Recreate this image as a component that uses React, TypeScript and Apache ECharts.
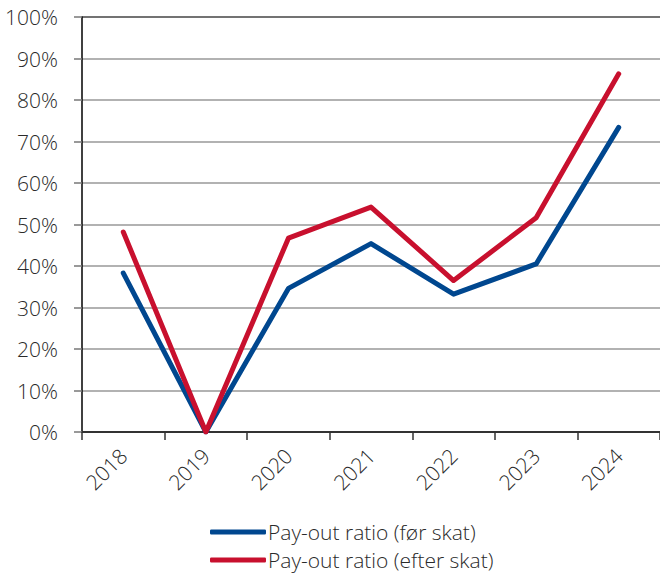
import React, { useEffect, useRef } from "react";
import * as echarts from "echarts";

const years = ["2018", "2019", "2020", "2021", "2022", "2023", "2024"];
const beforeTax = [38.3, 0, 34.6, 45.4, 33.2, 40.5, 73.4];
const afterTax = [48.2, 0, 46.7, 54.2, 36.5, 51.6, 86.3];
const seriesNames = ["Pay-out ratio (før skat)", "Pay-out ratio (efter skat)"];

const FONT = "'Open Sans', Lato, sans-serif";

export default function App() {
  const ref = useRef<HTMLDivElement>(null);
  useEffect(() => {
    const chart = echarts.init(ref.current!, undefined, { renderer: "svg" });
    const gridColors = Array.from({ length: 11 }, (_, i) => (i === 10 ? "#444" : "#999"));
    chart.setOption({
      animation: false,
      textStyle: { fontFamily: FONT },
      grid: { left: 82, right: -3, top: 17, bottom: 145, containLabel: false },
      legend: {
        orient: "vertical",
        left: 210,
        top: 520,
        padding: 0,
        itemWidth: 56,
        itemHeight: 5,
        itemGap: 4,
        icon: "roundRect",
        data: seriesNames,
        textStyle: { fontSize: 21, fontWeight: 300, color: "#2a2a2a", fontFamily: FONT, padding: [0, 0, 0, -3], lineHeight: 24 },
      },
      xAxis: {
        type: "category",
        data: years,
        boundaryGap: true,
        axisLine: { show: true, lineStyle: { color: "#333", width: 2 } },
        axisTick: { show: true, length: 8, lineStyle: { color: "#333", width: 1.5 } },
        axisLabel: { rotate: 45, fontSize: 21, fontWeight: 300, color: "#2a2a2a", margin: 20, fontFamily: FONT },
      },
      yAxis: {
        type: "value",
        min: 0,
        max: 100,
        interval: 10,
        axisLine: { show: true, lineStyle: { color: "#000", width: 1.5 } },
        axisTick: { show: true, length: 8, lineStyle: { color: "#777", width: 1.5 } },
        axisLabel: { formatter: "{value}%", fontSize: 21, fontWeight: 300, color: "#2a2a2a", margin: 24, fontFamily: FONT },
        splitLine: { show: true, lineStyle: { color: gridColors, width: 1.5 } },
      },
      series: [
        {
          name: seriesNames[0],
          type: "line",
          data: beforeTax,
          symbol: "none",
          lineStyle: { color: "#00478f", width: 5, cap: "round", join: "round" },
          itemStyle: { color: "#00478f" },
        },
        {
          name: seriesNames[1],
          type: "line",
          data: afterTax,
          symbol: "none",
          lineStyle: { color: "#c8102e", width: 5, cap: "round", join: "round" },
          itemStyle: { color: "#c8102e" },
        },
      ],
    });
    return () => chart.dispose();
  }, []);
  return <div ref={ref} style={{ width: 660, height: 577, position: "absolute", left: 0, top: 0 }} />;
}
